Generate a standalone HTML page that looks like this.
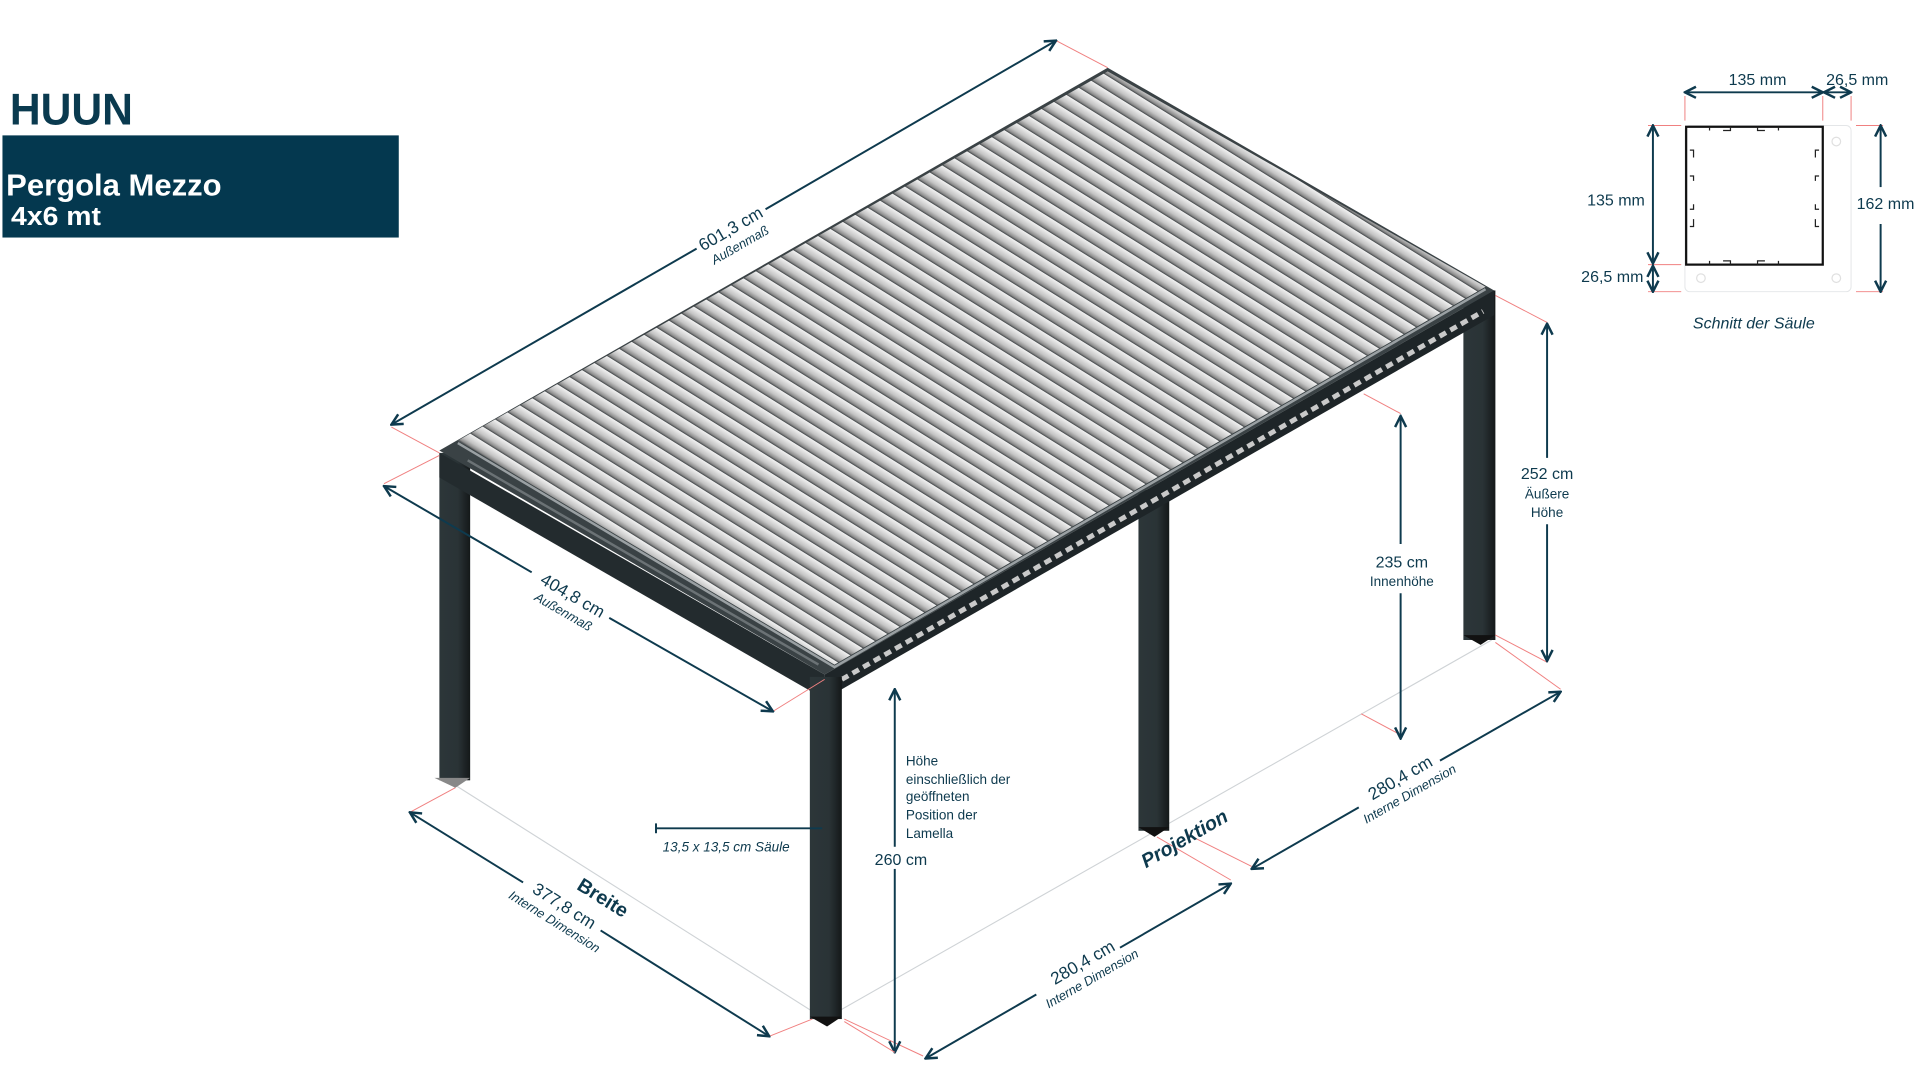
<!DOCTYPE html>
<html><head><meta charset="utf-8"><style>
html,body{margin:0;padding:0;background:#fff;width:1920px;height:1080px;overflow:hidden}
svg{display:block}
text{font-family:"Liberation Sans",sans-serif;fill:#0e3a4e}
.n{font-family:"Liberation Sans Narrow","Liberation Sans",sans-serif}
.dim{stroke:#0e3a4e;stroke-width:1.6;fill:none}
.red{stroke:#f08080;stroke-width:0.8;fill:none}
.gr{stroke:#cfd3d6;stroke-width:0.9;fill:none}
</style></head><body>
<svg width="1920" height="1080" viewBox="0 0 1560 877.5" xmlns="http://www.w3.org/2000/svg">
<defs>
<marker id="a" viewBox="0 0 10 10" refX="9" refY="5" markerWidth="7" markerHeight="7" orient="auto-start-reverse"><path d="M1,1 L9,5 L1,9" fill="none" stroke="#0e3a4e" stroke-width="1.8"/></marker>
<linearGradient id="lg" x1="0" y1="0" x2="0" y2="1">
<stop offset="0" stop-color="#f2f2f2"/><stop offset="0.55" stop-color="#c4c4c4"/><stop offset="0.85" stop-color="#8c8c8c"/><stop offset="1" stop-color="#3a3f42"/></linearGradient>
<pattern id="lv" width="40" height="10.2" patternUnits="userSpaceOnUse" patternTransform="translate(372,358) rotate(31.9)">
<rect width="40" height="10.2" fill="url(#lg)"/></pattern>
<linearGradient id="leg" x1="0" x2="1"><stop offset="0" stop-color="#2c3639"/><stop offset="0.6" stop-color="#2a3336"/><stop offset="1" stop-color="#141819"/></linearGradient>
</defs>

<text x="8" y="101" class="n" textLength="100" lengthAdjust="spacingAndGlyphs" style="font-size:36px;font-weight:bold;fill:#0a3a4f">HUUN</text>
<rect x="2" y="110" width="322" height="83" fill="#04384f"/>
<text x="5" y="159" class="n" textLength="175" lengthAdjust="spacingAndGlyphs" style="font-size:25px;font-weight:bold;fill:#fff">Pergola Mezzo</text>
<text x="9" y="183" class="n" textLength="73" lengthAdjust="spacingAndGlyphs" style="font-size:21px;font-weight:bold;fill:#fff">4x6 mt</text>

<polyline class="gr" points="370,638 670,828 1212,520"/>

<rect x="1189" y="236" width="26" height="284" fill="url(#leg)"/>
<polygon points="1189,516 1215,516 1203,524" fill="#111"/>
<rect x="925" y="398" width="25" height="277" fill="url(#leg)"/>
<polygon points="925,672 950,672 938,680" fill="#111"/>
<rect x="357" y="368" width="25" height="266" fill="url(#leg)"/>
<polygon points="353,632 382,632 370,640" fill="#888"/>

<polygon points="357,366 900,55 1214,236 670,548" fill="#3a4245"/>
<polygon points="357,368 670,548 670,568 357,388" fill="#232b2e"/>
<polygon points="670,548 1214,236 1214,256 670,568" fill="#1e2528"/>
<line x1="684" y1="552" x2="1205" y2="253" stroke="#c9c9c9" stroke-width="4" stroke-dasharray="6 4"/>
<polygon points="372,358 900,58 1207,233 678,540" fill="url(#lv)"/>
<polyline points="372,360 678,542 1207,235" fill="none" stroke="#9aa0a3" stroke-width="2"/>
<line x1="380" y1="374" x2="665" y2="540" stroke="#6b7275" stroke-width="2"/>

<rect x="658" y="550" width="26" height="278" fill="url(#leg)"/>
<polygon points="658,826 684,826 672,834" fill="#111"/>

<line class="red" x1="318" y1="347" x2="357" y2="368"/><line class="red" x1="858" y1="33" x2="900" y2="55"/>
<line class="dim" x1="318" y1="345" x2="566" y2="202" marker-start="url(#a)"/>
<line class="dim" x1="622" y1="170" x2="858" y2="33" marker-end="url(#a)"/>
<g transform="translate(596,190) rotate(-30)"><text x="0" y="0" text-anchor="middle" style="font-size:14px">601,3 cm</text><text x="0" y="14" text-anchor="middle" style="font-size:10.5px;font-style:italic">Außenmaß</text></g>

<line class="red" x1="312" y1="393" x2="357" y2="370"/><line class="red" x1="628" y1="578" x2="670" y2="552"/>
<line class="dim" x1="312" y1="395" x2="432" y2="465" marker-start="url(#a)"/>
<line class="dim" x1="495" y1="502" x2="628" y2="578" marker-end="url(#a)"/>
<g transform="translate(463,488) rotate(30)"><text x="0" y="0" text-anchor="middle" style="font-size:14px">404,8 cm</text><text x="0" y="14" text-anchor="middle" style="font-size:10.5px;font-style:italic">Außenmaß</text></g>

<line class="red" x1="333" y1="660" x2="370" y2="640"/><line class="red" x1="625" y1="842" x2="660" y2="828"/>
<line class="dim" x1="333" y1="660" x2="425" y2="717" marker-start="url(#a)"/>
<line class="dim" x1="488" y1="756" x2="625" y2="842" marker-end="url(#a)"/>
<g transform="translate(456,740) rotate(32)"><text x="0" y="0" text-anchor="middle" style="font-size:14px">377,8 cm</text><text x="0" y="14" text-anchor="middle" style="font-size:10.5px;font-style:italic">Interne Dimension</text></g>
<text transform="translate(487,734) rotate(32)" text-anchor="middle" style="font-size:16px;font-weight:bold">Breite</text>

<line class="red" x1="686" y1="828" x2="750" y2="858"/><line class="red" x1="940" y1="680" x2="1000" y2="715"/>
<line class="dim" x1="752" y1="860" x2="842" y2="808" marker-start="url(#a)"/>
<line class="dim" x1="910" y1="770" x2="1000" y2="718" marker-end="url(#a)"/>
<g transform="translate(882,786) rotate(-30)"><text x="0" y="0" text-anchor="middle" style="font-size:14px">280,4 cm</text><text x="0" y="14" text-anchor="middle" style="font-size:10.5px;font-style:italic">Interne Dimension</text></g>

<line class="red" x1="965" y1="678" x2="1017" y2="704"/><line class="red" x1="1215" y1="522" x2="1268" y2="560"/>
<line class="red" x1="1106" y1="580" x2="1136" y2="596"/>
<line class="dim" x1="1017" y1="706" x2="1104" y2="656" marker-start="url(#a)"/>
<line class="dim" x1="1170" y1="618" x2="1268" y2="562" marker-end="url(#a)"/>
<g transform="translate(1140,636) rotate(-30)"><text x="0" y="0" text-anchor="middle" style="font-size:14px">280,4 cm</text><text x="0" y="14" text-anchor="middle" style="font-size:10.5px;font-style:italic">Interne Dimension</text></g>
<text transform="translate(965,686) rotate(-30)" text-anchor="middle" style="font-size:16px;font-weight:bold;font-style:italic">Projektion</text>

<line class="dim" x1="727" y1="560" x2="727" y2="855" marker-start="url(#a)" marker-end="url(#a)"/>
<line class="red" x1="686" y1="830" x2="727" y2="855"/>
<rect x="707" y="688" width="50" height="18" fill="#fff"/>
<text x="732" y="703" text-anchor="middle" style="font-size:13px">260 cm</text>
<g style="font-size:11px"><text x="736" y="622">Höhe</text><text x="736" y="637">einschließlich der</text><text x="736" y="651">geöffneten</text><text x="736" y="666">Position der</text><text x="736" y="681">Lamella</text></g>

<line class="dim" x1="533" y1="673" x2="668" y2="673"/><line class="dim" x1="533" y1="669" x2="533" y2="677"/>
<text x="590" y="692" text-anchor="middle" style="font-size:11px;font-style:italic">13,5 x 13,5 cm Säule</text>

<line class="red" x1="1108" y1="320" x2="1138" y2="336"/>
<line class="dim" x1="1138" y1="338" x2="1138" y2="442" marker-start="url(#a)"/>
<line class="dim" x1="1138" y1="482" x2="1138" y2="600" marker-end="url(#a)"/>
<text x="1139" y="461" text-anchor="middle" style="font-size:13px">235 cm</text>
<text x="1139" y="476" text-anchor="middle" style="font-size:11px">Innenhöhe</text>

<line class="red" x1="1215" y1="240" x2="1257" y2="262"/><line class="red" x1="1215" y1="516" x2="1257" y2="538"/>
<line class="dim" x1="1257" y1="263" x2="1257" y2="372" marker-start="url(#a)"/>
<line class="dim" x1="1257" y1="426" x2="1257" y2="537" marker-end="url(#a)"/>
<text x="1257" y="389" text-anchor="middle" style="font-size:13px">252 cm</text>
<text x="1257" y="405" text-anchor="middle" style="font-size:11px">Äußere</text>
<text x="1257" y="420" text-anchor="middle" style="font-size:11px">Höhe</text>

<rect x="1369" y="102" width="135" height="135" rx="4" fill="none" stroke="#e4e6e8" stroke-width="0.8"/>
<circle cx="1492" cy="115" r="3.5" fill="none" stroke="#e0e0e0"/><circle cx="1382" cy="226" r="3.5" fill="none" stroke="#e0e0e0"/><circle cx="1492" cy="226" r="3.5" fill="none" stroke="#e0e0e0"/>
<rect x="1370" y="103" width="111" height="112" fill="none" stroke="#111" stroke-width="1.8"/>
<g stroke="#222" stroke-width="1" fill="none">
<path d="M1389,106 v-3 M1400,106 h6 v-3 M1428,103 v3 h6 M1445,103 v3 M1389,212 v3 M1400,212 h6 v3 M1428,215 v-3 h6 M1445,212 v3 M1373,122 h3 v6 M1373,184 h3 v-6 M1373,143 h3 v4 M1373,170 h3 v-4 M1478,122 h-3 v6 M1478,184 h-3 v-6 M1478,143 h-3 v4 M1478,170 h-3 v-4"/>
</g>
<line class="red" x1="1369" y1="78" x2="1369" y2="98"/><line class="red" x1="1481" y1="78" x2="1481" y2="98"/><line class="red" x1="1504" y1="78" x2="1504" y2="98"/>
<line class="red" x1="1339" y1="102" x2="1366" y2="102"/><line class="red" x1="1339" y1="215" x2="1366" y2="215"/><line class="red" x1="1339" y1="237" x2="1366" y2="237"/>
<line class="red" x1="1508" y1="102" x2="1530" y2="102"/><line class="red" x1="1508" y1="237" x2="1530" y2="237"/>
<line class="dim" x1="1369" y1="75" x2="1481" y2="75" marker-start="url(#a)" marker-end="url(#a)"/>
<line class="dim" x1="1482" y1="75" x2="1504" y2="75" marker-start="url(#a)" marker-end="url(#a)"/>
<line class="dim" x1="1343" y1="102" x2="1343" y2="214" marker-start="url(#a)" marker-end="url(#a)"/>
<line class="dim" x1="1343" y1="216" x2="1343" y2="237" marker-start="url(#a)" marker-end="url(#a)"/>
<line class="dim" x1="1528" y1="102" x2="1528" y2="152" marker-start="url(#a)"/>
<line class="dim" x1="1528" y1="182" x2="1528" y2="237" marker-end="url(#a)"/>
<text x="1428" y="69" text-anchor="middle" style="font-size:13px">135 mm</text>
<text x="1509" y="69" text-anchor="middle" style="font-size:13px">26,5 mm</text>
<text x="1313" y="167" text-anchor="middle" style="font-size:13px">135 mm</text>
<text x="1310" y="229" text-anchor="middle" style="font-size:13px">26,5 mm</text>
<text x="1532" y="170" text-anchor="middle" style="font-size:13px">162 mm</text>
<text x="1425" y="267" text-anchor="middle" style="font-size:13px;font-style:italic">Schnitt der Säule</text>
</svg>
</body></html>
